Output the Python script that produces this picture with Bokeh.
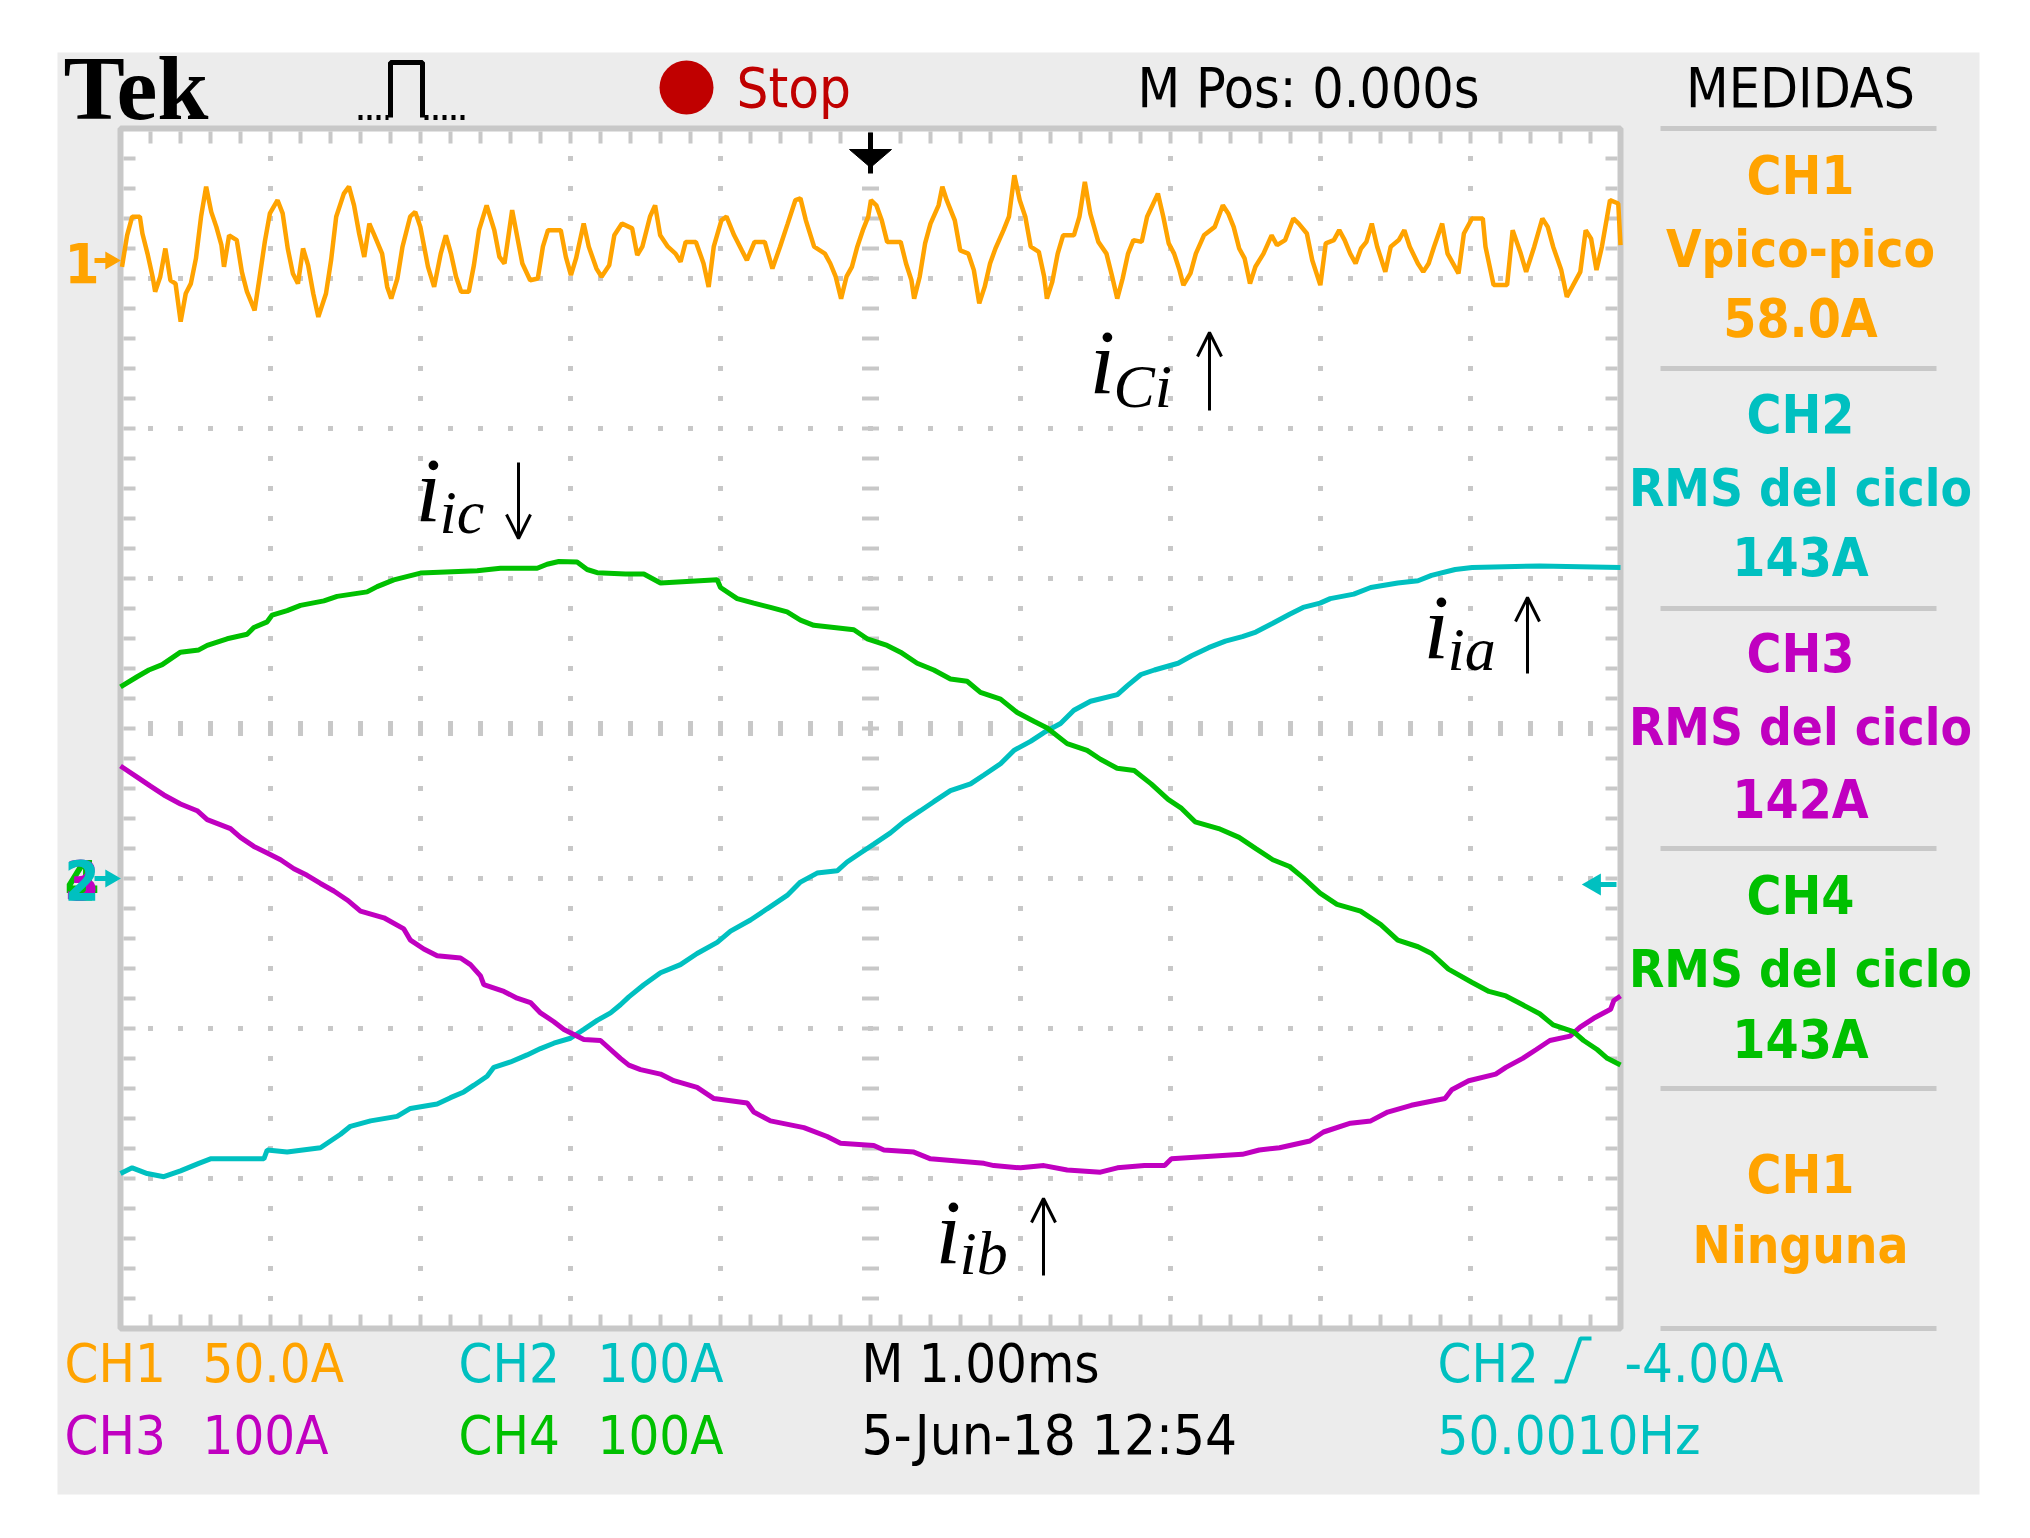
from bokeh.plotting import figure
from bokeh.models import Range1d, Label, Arrow, OpenHead
from bokeh.embed import file_html
from bokeh.resources import INLINE

# ---------------- DATA (time in ms relative to trigger, current in A) ----------------
ch1_time_ms = [-4.990,-4.956,-4.922,-4.871,-4.854,-4.820,-4.786,-4.769,-4.735,-4.701,-4.667,-4.633,-4.599,-4.565,-4.531,-4.497,-4.463,-4.429,-4.395,-4.361,-4.327,-4.310,-4.276,-4.225,-4.191,-4.157,-4.106,-4.072,-4.038,-4.004,-3.953,-3.919,-3.885,-3.851,-3.817,-3.783,-3.749,-3.715,-3.681,-3.630,-3.596,-3.562,-3.511,-3.477,-3.443,-3.409,-3.375,-3.341,-3.307,-3.256,-3.222,-3.195,-3.154,-3.120,-3.069,-3.035,-3.001,-2.950,-2.909,-2.865,-2.831,-2.797,-2.763,-2.729,-2.678,-2.644,-2.610,-2.559,-2.508,-2.474,-2.440,-2.389,-2.355,-2.321,-2.269,-2.218,-2.184,-2.150,-2.065,-2.031,-1.997,-1.963,-1.912,-1.878,-1.827,-1.793,-1.742,-1.708,-1.657,-1.589,-1.555,-1.521,-1.470,-1.436,-1.402,-1.351,-1.300,-1.266,-1.232,-1.164,-1.113,-1.079,-1.045,-0.994,-0.960,-0.909,-0.858,-0.824,-0.773,-0.705,-0.654,-0.603,-0.552,-0.501,-0.467,
               -0.431,-0.376,-0.304,-0.268,-0.232,-0.196,-0.160,-0.124,-0.088,-0.051,-0.015,0.003,0.039,0.075,0.111,0.201,0.237,0.273,0.291,0.328,0.364,0.400,0.454,0.479,0.508,0.562,0.598,0.652,0.689,0.725,0.761,0.797,0.833,0.887,0.923,0.959,0.995,1.032,1.068,1.122,1.158,1.176,1.212,1.248,1.284,1.356,1.393,1.429,1.465,1.519,1.573,1.609,1.645,1.681,1.717,1.753,1.808,1.844,1.916,1.952,1.988,2.024,2.060,2.086,2.133,2.169,2.223,2.295,2.349,2.385,2.421,2.458,2.494,2.530,2.566,2.620,2.674,2.710,2.764,2.819,2.855,2.909,2.945,2.999,3.035,3.089,3.125,3.161,3.198,3.234,3.270,3.306,3.342,3.378,3.432,3.468,3.522,3.559,3.595,3.649,3.685,3.721,3.757,3.811,3.847,3.920,3.956,4.010,4.082,4.100,4.154,4.244,4.281,4.335,4.371,4.425,4.479,4.515,4.551,4.605,4.642,4.678,4.732,4.768,4.804,4.840,4.876,4.930,4.985,5.000]
ch1_current_A = [-6.1,4.4,10.6,10.6,5.0,-1.7,-9.4,-14.4,-9.4,0.0,-10.6,-11.7,-24.4,-15.0,-11.7,-3.3,10.6,20.6,12.2,7.2,1.1,-6.1,4.4,2.8,-7.8,-14.4,-20.6,-9.4,2.2,11.7,16.1,11.7,0.0,-8.3,-11.7,0.0,-5.6,-15.0,-22.8,-15.0,-3.9,10.6,18.3,20.6,14.4,5.0,-2.8,8.3,4.4,-1.7,-12.8,-16.7,-10.0,0.6,10.6,12.2,7.2,-6.1,-12.8,-1.7,4.4,-1.7,-9.4,-14.4,-14.4,-5.6,6.1,14.4,6.1,-2.8,-5.0,12.8,3.9,-5.0,-10.6,-10.0,0.6,6.1,6.1,-2.8,-8.9,-3.3,8.3,0.6,-6.7,-9.4,-5.6,4.4,8.3,6.7,-2.2,0.6,10.6,14.4,4.4,0.6,-1.7,-4.4,2.2,2.2,-5.0,-12.8,0.6,9.4,10.6,4.4,-0.6,-3.9,2.2,2.2,-6.7,0.6,8.3,16.1,16.7,
                 9.4,0.6,-1.7,-5.0,-9.4,-16.7,-9.4,-6.1,0.6,6.1,10.6,16.1,14.4,9.4,2.2,2.2,-5.0,-10.6,-16.7,-9.4,1.7,8.3,14.4,20.6,16.1,9.4,-0.6,-1.7,-7.2,-18.3,-12.8,-5.0,0.0,6.1,10.6,24.4,16.1,10.6,0.6,-1.1,-9.4,-16.7,-11.1,-1.7,4.4,4.4,10.6,22.2,11.7,2.2,-1.7,-8.9,-16.7,-10.0,-1.7,2.8,2.2,10.6,18.3,10.6,1.7,-1.7,-7.2,-12.2,-8.3,-1.7,4.4,7.2,14.4,11.7,7.2,0.0,-3.3,-11.7,-6.1,-1.7,4.4,1.1,2.8,10.0,8.3,5.0,-3.9,-12.2,1.7,2.8,6.1,2.8,-1.7,-5.0,0.0,2.2,8.3,0.6,-7.8,0.6,2.8,6.1,0.6,-5.0,-7.8,-5.0,0.6,8.3,-1.7,-8.3,5.0,10.0,10.0,0.6,-12.2,-12.2,6.1,-1.7,-7.8,0.6,10.0,7.2,0.6,-7.2,-16.1,-12.8,-7.8,6.1,3.3,-7.2,0.6,16.1,15.0,1.1]

ch2_time_ms = [-5.000,-4.922,-4.822,-4.711,-4.600,-4.478,-4.400,-4.044,-4.022,-3.889,-3.667,-3.600,-3.533,-3.467,-3.333,-3.156,-3.067,-2.889,-2.800,-2.711,-2.644,-2.556,-2.511,-2.400,-2.289,-2.200,-2.111,-2.000,-1.911,-1.822,-1.733,-1.667,-1.611,-1.511,-1.400,-1.267,-1.156,-1.022,-0.933,-0.800,-0.689,-0.556,-0.467,-0.356,-0.222,-0.156,-0.067,0.022,0.133,0.222,0.333,0.422,0.533,0.667,0.756,0.867,0.956,1.067,1.156,1.267,1.356,1.467,1.646,1.713,1.803,1.893,2.051,2.141,2.254,2.366,2.479,2.569,2.682,2.794,2.884,2.997,3.065,3.222,3.335,3.515,3.650,3.740,3.898,4.011,4.461,5.000]
ch2_current_A = [-196.7,-192.9,-196.7,-198.8,-194.9,-189.9,-186.9,-186.9,-181.0,-182.4,-179.5,-175.0,-170.5,-165.2,-161.6,-158.6,-153.3,-150.3,-146.1,-142.3,-137.8,-131.8,-125.9,-122.3,-117.6,-113.4,-109.8,-106.5,-100.6,-94.6,-89.6,-84.2,-78.9,-70.8,-62.8,-57.4,-50.0,-42.6,-35.1,-27.7,-20.2,-11.3,-2.4,3.6,5.1,11.0,17.0,22.9,30.4,37.8,45.2,51.2,58.6,63.1,69.0,76.5,85.4,91.4,97.3,103.3,112.2,118.2,122.6,128.6,136.0,139.0,143.5,148.5,153.9,158.3,161.3,164.3,170.2,176.2,180.7,183.6,186.6,189.6,194.0,197.0,198.5,202.1,206.0,207.4,208.3,207.4]

ch3_time_ms = [-5.000,-4.889,-4.800,-4.711,-4.600,-4.489,-4.422,-4.267,-4.200,-4.111,-4.022,-3.933,-3.844,-3.756,-3.667,-3.578,-3.489,-3.400,-3.244,-3.111,-3.067,-2.978,-2.889,-2.733,-2.667,-2.600,-2.578,-2.444,-2.356,-2.267,-2.200,-2.111,-2.044,-1.911,-1.800,-1.733,-1.667,-1.611,-1.533,-1.400,-1.311,-1.156,-1.044,-0.822,-0.778,-0.667,-0.444,-0.289,-0.200,0.022,0.089,0.289,0.400,0.756,0.822,1.000,1.156,1.311,1.533,1.646,1.826,1.961,2.006,2.479,2.592,2.727,2.929,3.020,3.200,3.335,3.448,3.605,3.830,3.875,3.988,4.168,4.236,4.348,4.439,4.529,4.664,4.731,4.821,4.934,4.956,5.000]
ch3_current_A = [75.0,67.6,61.6,55.7,49.7,45.2,39.3,33.3,27.4,21.4,17.0,12.5,6.5,2.1,-3.3,-8.3,-14.3,-21.7,-26.2,-33.6,-41.1,-47.0,-51.5,-53.0,-57.4,-64.9,-70.8,-75.3,-79.8,-82.7,-89.6,-95.5,-100.6,-107.4,-108.0,-114.0,-119.9,-124.4,-127.4,-130.4,-134.8,-139.3,-146.7,-149.7,-155.7,-161.6,-166.1,-172.0,-176.5,-178.0,-181.0,-182.4,-186.9,-189.9,-191.4,-192.9,-191.4,-194.3,-195.8,-192.9,-191.4,-191.4,-186.9,-183.9,-181.0,-179.5,-175.0,-169.0,-163.1,-161.6,-155.7,-151.2,-146.7,-140.8,-134.8,-130.4,-125.9,-119.9,-114.0,-108.0,-105.1,-99.1,-93.2,-87.2,-81.3,-78.3]

ch4_time_ms = [-5.000,-4.889,-4.811,-4.722,-4.600,-4.478,-4.422,-4.289,-4.156,-4.111,-4.022,-3.989,-3.889,-3.800,-3.644,-3.556,-3.356,-3.289,-3.178,-3.000,-2.622,-2.467,-2.222,-2.156,-2.078,-1.956,-1.889,-1.822,-1.633,-1.511,-1.400,-1.022,-1.000,-0.889,-0.778,-0.667,-0.556,-0.467,-0.378,-0.244,-0.111,-0.022,0.111,0.200,0.311,0.422,0.533,0.644,0.733,0.867,0.978,1.089,1.178,1.311,1.444,1.533,1.644,1.758,1.871,1.984,2.074,2.164,2.321,2.457,2.569,2.682,2.794,2.884,2.997,3.110,3.267,3.402,3.515,3.650,3.740,3.853,4.011,4.123,4.236,4.348,4.461,4.551,4.686,4.754,4.844,4.912,5.000]
ch4_current_A = [127.7,134.5,139.0,142.6,150.9,152.4,155.4,159.8,162.8,167.3,171.1,175.6,178.6,182.1,185.1,188.1,191.1,194.6,199.1,203.6,205.1,206.8,206.8,209.5,211.3,211.0,206.0,203.9,203.0,203.0,197.0,199.1,194.0,186.6,183.6,180.7,177.7,172.3,168.8,167.3,165.8,159.8,155.4,150.9,143.5,139.0,133.0,131.5,124.1,119.6,110.7,104.8,100.3,89.9,85.4,79.5,73.5,72.0,63.1,52.7,46.7,37.8,33.3,27.4,19.9,12.5,8.0,0.6,-9.8,-17.3,-21.7,-30.7,-41.1,-45.5,-50.0,-60.4,-69.3,-75.3,-78.3,-84.2,-90.2,-97.6,-102.1,-108.0,-114.0,-119.9,-124.4]

# channel settings: amps/div and ground position (divisions from centre)
ch1_scale_A_div, ch1_ground_div = 50.0, 3.2
ch234_scale_A_div, ch234_ground_div = 100.0, -1.0

header_texts = ["Tek", "Stop", "M Pos: 0.000s", "MEDIDAS"]
meas_titles = ["CH1", "CH2", "CH3", "CH4", "CH1"]
meas_types = ["Vpico-pico", "RMS del ciclo", "RMS del ciclo", "RMS del ciclo", "Ninguna"]
meas_values = ["58.0A", "143A", "142A", "143A", ""]
bottom_row1 = ["CH1", "50.0A", "CH2", "100A", "M 1.00ms", "CH2", "-4.00A"]
bottom_row2 = ["CH3", "100A", "CH4", "100A", "5-Jun-18 12:54", "50.0010Hz"]

C1, C2, C3, C4 = "#FFA300", "#00C0C0", "#C000C0", "#00C000"
GRID = "#C8C8C8"
PANEL = "#ECECEC"

# ---------------- layout helpers (page pixels -> ms / divisions) ----------------
W, H = 2030, 1532
PX = 1.0 / 150.0
def X(px): return (px - 120) * PX - 5.0
def Y(py): return (728 - py) * PX

y_lo, y_hi = Y(H), Y(0)
p = figure(width=W, height=H, x_range=Range1d(X(0), X(W)), y_range=Range1d(y_lo, y_hi),
           output_backend="svg", toolbar_location=None, x_axis_type=None, y_axis_type=None,
           min_border=0, min_border_left=0, min_border_right=0, min_border_top=0, min_border_bottom=0,
           outline_line_color=None, background_fill_color="white", border_fill_color="white")
p.extra_y_ranges = {
    "ch1": Range1d((y_lo - ch1_ground_div) * ch1_scale_A_div, (y_hi - ch1_ground_div) * ch1_scale_A_div),
    "ch234": Range1d((y_lo - ch234_ground_div) * ch234_scale_A_div, (y_hi - ch234_ground_div) * ch234_scale_A_div),
}

# panel and graticule
p.quad(left=X(57), right=X(1979), top=Y(52), bottom=Y(1494), fill_color=PANEL, line_color=None)
p.quad(left=-5, right=5, top=4, bottom=-4, fill_color="white", line_color=None)

xs_minor = [round(-5 + 0.2 * i, 3) for i in range(1, 50)]
ys_minor = [round(-4 + 0.2 * i, 3) for i in range(1, 40)]
dx, dy = [], []
for mx in [-4, -3, -2, -1, 1, 2, 3, 4]:
    for yv in ys_minor:
        dx.append(mx); dy.append(yv)
for my in [-3, -2, -1, 1, 2, 3]:
    for xv in xs_minor:
        dx.append(xv); dy.append(my)
def ticks(xs, ys, w, h):
    p.rect(xs, ys, width=w, height=h, width_units="screen", height_units="screen", fill_color=GRID, line_color=None)
ticks(dx, dy, 5, 5)
ticks(xs_minor, [0] * len(xs_minor), 5, 15)
ticks([0] * len(ys_minor), ys_minor, 17, 4)
ticks(xs_minor, [Y(137)] * len(xs_minor), 4, 12)
ticks(xs_minor, [Y(1320)] * len(xs_minor), 4, 12)
ticks([X(129)] * len(ys_minor), ys_minor, 12, 4)
ticks([X(1611)] * len(ys_minor), ys_minor, 12, 4)
p.quad(left=-5, right=5, top=4, bottom=-4, fill_color=None, line_color=GRID, line_width=6)

# right panel separators
sep = [128, 368, 608, 848, 1088, 1328]
p.segment(x0=[X(1660)] * 6, x1=[X(1936)] * 6, y0=[Y(s) for s in sep], y1=[Y(s) for s in sep], line_color=GRID, line_width=5)

# traces
p.line(ch2_time_ms, ch2_current_A, y_range_name="ch234", line_color=C2, line_width=5)
p.line(ch3_time_ms, ch3_current_A, y_range_name="ch234", line_color=C3, line_width=5)
p.line(ch4_time_ms, ch4_current_A, y_range_name="ch234", line_color=C4, line_width=5)
p.line(ch1_time_ms, ch1_current_A, y_range_name="ch1", line_color=C1, line_width=4.5)

NARROW = "DejaVu Sans Condensed, Liberation Sans, sans-serif"
SERIF = "Liberation Serif"

def lab(px, base, text, color, size, font=NARROW, align="left", style="normal"):
    # base = alphabetic baseline in page pixels; drawn with a 'middle' baseline
    cy = base - 0.35 * size
    p.add_layout(Label(x=X(px), y=Y(cy), text=text, text_color=color, text_font_size=f"{size}px",
                       text_font=font, text_font_style=style, text_align=align, text_baseline="middle"))

# header
lab(63, 120, header_texts[0], "black", 92, font=SERIF, style="bold")
p.scatter([X(686)], [Y(87)], size=54, marker="circle", fill_color="#C00000", line_color=None)
lab(736, 107, header_texts[1], "#C00000", 56)
lab(1137, 107, header_texts[2], "black", 55)
lab(1800, 107, header_texts[3], "black", 55, align="center")
# pulse icon
p.line([X(390), X(390), X(422), X(422)], [Y(117), Y(62), Y(62), Y(117)], line_color="black", line_width=5)
p.segment(x0=[X(358), X(424)], x1=[X(388), X(466)], y0=[Y(117)] * 2, y1=[Y(117)] * 2,
          line_color="black", line_width=5, line_dash="4 5")

# trigger position marker (top centre)
p.line([0, 0], [Y(132), Y(173)], line_color="black", line_width=5)
p.patch([X(849), X(891), X(870)], [Y(149), Y(149), Y(167)], fill_color="black", line_color="black")

# ground markers
lab(64, 282, "1", C1, 56, style="bold")
p.line([X(94), X(116)], [Y(260)] * 2, line_color=C1, line_width=5)
p.scatter([X(110)], [Y(260)], marker="triangle", angle=-1.5708, size=18, fill_color=C1, line_color=None)
lab(64, 899, "4", C4, 56, style="bold")
lab(64, 899, "3", C3, 56, style="bold")
lab(64, 899, "2", C2, 56, style="bold")
p.line([X(94), X(116)], [Y(878)] * 2, line_color=C2, line_width=5)
p.scatter([X(110)], [Y(878)], marker="triangle", angle=-1.5708, size=18, fill_color=C2, line_color=None)
# trigger level marker (right)
p.line([X(1592), X(1616)], [Y(884)] * 2, line_color=C2, line_width=5)
p.scatter([X(1594)], [Y(884)], marker="triangle", angle=1.5708, size=22, fill_color=C2, line_color=None)

# measurement panel
mcol = [C1, C2, C3, C4, C1]
bases = [(194, 267, 337), (433, 506, 576), (672, 745, 818), (914, 987, 1058), (1193, 1263, None)]
for i in range(5):
    b0, b1, b2 = bases[i]
    lab(1800, b0, meas_titles[i], mcol[i], 53, align="center", style="bold")
    lab(1800, b1, meas_types[i], mcol[i], 51, align="center", style="bold")
    if b2 is not None:
        lab(1800, b2, meas_values[i], mcol[i], 53, align="center", style="bold")

# bottom status lines
r1 = 1382
lab(64, r1, bottom_row1[0], C1, 54); lab(202, r1, bottom_row1[1], C1, 54)
lab(458, r1, bottom_row1[2], C2, 54); lab(597, r1, bottom_row1[3], C2, 54)
lab(861, r1, bottom_row1[4], "black", 54)
lab(1437, r1, bottom_row1[5], C2, 54); lab(1624, r1, bottom_row1[6], C2, 54)
p.line([X(1554), X(1565), X(1580), X(1591)], [Y(1381), Y(1381), Y(1338), Y(1338)], line_color=C2, line_width=4)
r2 = 1454
lab(64, r2, bottom_row2[0], C3, 54); lab(202, r2, bottom_row2[1], C3, 54)
lab(458, r2, bottom_row2[2], C4, 54); lab(597, r2, bottom_row2[3], C4, 54)
lab(861, r2, bottom_row2[4], "black", 56)
lab(1437, r2, bottom_row2[5], C2, 54)

# trace annotations
def ann(ix, base, sub, sub_base, ax, ay0, ay1):
    lab(ix, base, "i", "black", 92, font=SERIF, style="italic")
    lab(ix + 24, sub_base, sub, "black", 62, font=SERIF, style="italic")
    p.add_layout(Arrow(end=OpenHead(size=24, line_width=3, line_color="black"),
                       x_start=X(ax), y_start=Y(ay0), x_end=X(ax), y_end=Y(ay1),
                       line_width=3, line_color="black"))

ann(1089, 394, "Ci", 407, 1209, 410, 332)
ann(415, 522, "ic", 533, 518, 462, 538)
ann(1423, 659, "ia", 670, 1527, 673, 597)
ann(935, 1264, "ib", 1274, 1043, 1275, 1198)

open("out.html", "w").write(file_html(p, INLINE))
